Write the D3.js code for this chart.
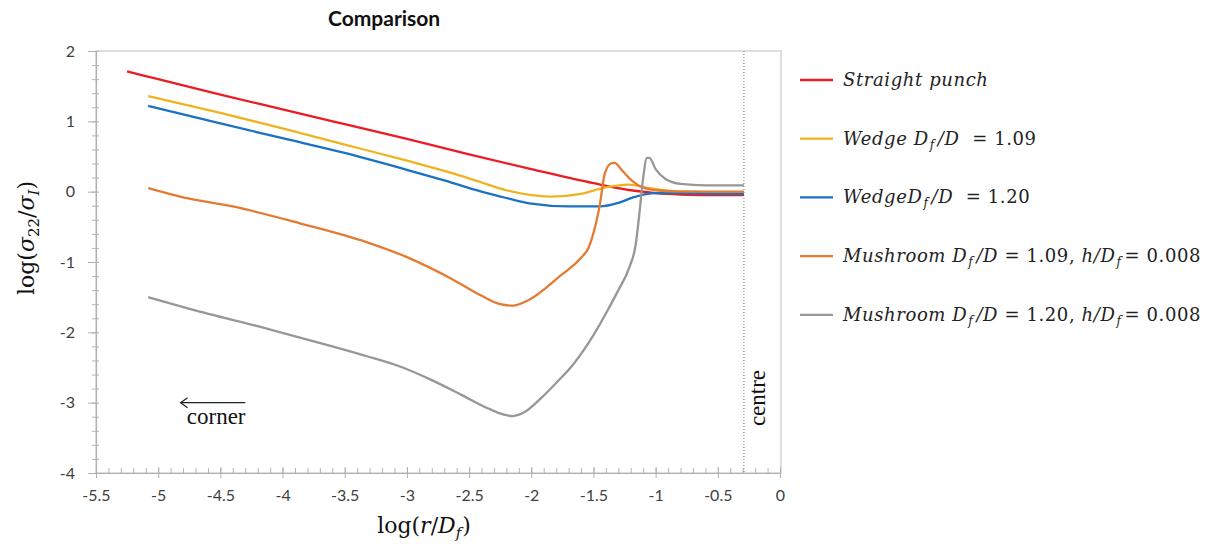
<!DOCTYPE html>
<html>
<head>
<meta charset="utf-8">
<script src="https://cdn.jsdelivr.net/npm/d3@7"></script>
<style>
  body { margin: 0; background: #fff; }
  text { font-family: Lato, sans-serif; }
</style>
</head>
<body>
<div id="plot"></div>
<script>
// series values, [log(r/Df), log(s22/s1)]
var straightPunch = [[-5.25,1.71],[-5.0,1.6],[-4.5,1.38],[-4.0,1.17],[-3.5,0.96],[-3.0,0.75],[-2.5,0.53],
  [-2.0,0.32],[-1.5,0.12],[-1.2,0.02],[-1.0,-0.02],[-0.8,-0.04],[-0.5,-0.05],[-0.29,-0.05]];
var wedge109 = [[-5.08,1.36],[-4.5,1.12],[-4.0,0.9],[-3.5,0.67],[-3.0,0.44],[-2.65,0.27],[-2.4,0.13],
  [-2.2,0.02],[-2.0,-0.05],[-1.85,-0.07],[-1.6,-0.03],[-1.4,0.06],[-1.22,0.1],[-1.05,0.05],[-0.88,0.01],
  [-0.7,0.0],[-0.5,-0.01],[-0.29,-0.01]];
var wedge120 = [[-5.08,1.22],[-4.5,0.97],[-4.0,0.76],[-3.5,0.55],[-3.0,0.31],[-2.7,0.16],[-2.4,0.0],
  [-2.2,-0.09],[-2.0,-0.17],[-1.7,-0.21],[-1.45,-0.21],[-1.3,-0.16],[-1.18,-0.08],[-1.0,-0.02],
  [-0.8,-0.02],[-0.5,-0.03],[-0.29,-0.03]];
var mushroom109 = [[-5.08,0.05],[-4.8,-0.08],[-4.4,-0.21],[-3.86,-0.45],[-3.32,-0.72],[-3.0,-0.93],
  [-2.65,-1.23],[-2.4,-1.48],[-2.25,-1.6],[-2.15,-1.62],[-2.02,-1.54],[-1.77,-1.2],[-1.6,-0.94],
  [-1.54,-0.8],[-1.48,-0.45],[-1.45,-0.2],[-1.41,0.25],[-1.36,0.4],[-1.33,0.41],[-1.27,0.3],
  [-1.2,0.17],[-1.13,0.08],[-1.0,0.02],[-0.8,0.0],[-0.5,0.0],[-0.29,0.0]];
var mushroom120 = [[-5.08,-1.5],[-4.74,-1.67],[-4.12,-1.95],[-3.6,-2.2],[-3.32,-2.34],[-3.05,-2.49],
  [-2.8,-2.68],[-2.55,-2.9],[-2.35,-3.08],[-2.22,-3.17],[-2.15,-3.19],[-2.05,-3.13],[-1.93,-2.95],
  [-1.8,-2.72],[-1.66,-2.45],[-1.5,-2.04],[-1.39,-1.7],[-1.3,-1.4],[-1.21,-1.07],[-1.16,-0.75],
  [-1.13,-0.3],[-1.1,0.2],[-1.07,0.48],[-1.05,0.48],[-1.0,0.32],[-0.92,0.18],[-0.8,0.11],
  [-0.6,0.09],[-0.29,0.09]];

var seriesColors = ["#ec1c24", "#efb320", "#1b72c3", "#e47a33", "#979797"];

// legend labels as [text, style] pieces: i = italic, s = italic subscript, n = upright
var legendLabels = [
  [["Straight punch","i"]],
  [["Wedge D","i"],["f","s"],["/D","i"],["  = 1.09","n"]],
  [["WedgeD","i"],["f","s"],["/D","i"],["  = 1.20","n"]],
  [["Mushroom D","i"],["f","s"],["/D","i"],[" = 1.09, ","n"],["h","i"],["/D","i"],["f","s"],["= 0.008","n"]],
  [["Mushroom D","i"],["f","s"],["/D","i"],[" = 1.20, ","n"],["h","i"],["/D","i"],["f","s"],["= 0.008","n"]]
];

var xTicks = [-5.5,-5,-4.5,-4,-3.5,-3,-2.5,-2,-1.5,-1,-0.5,0];
var yTicks = [2,1,0,-1,-2,-3,-4];
var centreAt = -0.29;

var allSeries = [straightPunch, wedge109, wedge120, mushroom109, mushroom120];

// set the dimensions and margins of the graph
var margin = {top: 51, right: 439, bottom: 76, left: 96},
    width = 1219 - margin.left - margin.right,
    height = 549 - margin.top - margin.bottom;

var root = d3.select("#plot")
  .append("svg")
    .attr("width", 1219)
    .attr("height", 549);

var svg = root.append("g")
    .attr("transform", "translate(" + margin.left + "," + margin.top + ")");

var x = d3.scaleLinear().domain([-5.5, 0]).range([0, width]);
var y = d3.scaleLinear().domain([-4, 2]).range([height, 0]);

// plot frame
svg.append("rect")
  .attr("x", 0).attr("y", 0)
  .attr("width", width + 1).attr("height", height)
  .attr("fill", "none")
  .attr("stroke", "#c8c8c8")
  .attr("stroke-width", 1.2);

// minor ticks
var yMinor = d3.range(-4, 2.001, 0.2);
var yMin = svg.append("g")
  .call(d3.axisLeft(y).tickValues(yMinor).tickSize(4).tickFormat(""));
yMin.select(".domain").remove();
yMin.selectAll("line").attr("x1", 3).attr("stroke", "#b5b5b5");

var xMinor = d3.range(-5.5, 0.001, 0.1);
var xMin = svg.append("g")
  .attr("transform", "translate(0," + height + ")")
  .call(d3.axisBottom(x).tickValues(xMinor).tickSize(0).tickFormat(""));
xMin.select(".domain").remove();
xMin.selectAll("line").attr("y2", -5).attr("stroke", "#b5b5b5");

// major axes
var yAxis = svg.append("g")
  .call(d3.axisLeft(y).tickValues(yTicks).tickSize(8).tickSizeOuter(0).tickPadding(13)
    .tickFormat(function(d) { return String(d); }));
yAxis.select(".domain").attr("stroke", "#b0b0b0").attr("stroke-width", 1.2);
yAxis.selectAll("line").attr("stroke", "#b0b0b0");
yAxis.selectAll("text").style("font-size", "16px").attr("fill", "#404040");

var xAxis = svg.append("g")
  .attr("transform", "translate(0," + height + ")")
  .call(d3.axisBottom(x).tickValues(xTicks).tickSize(5).tickSizeOuter(0).tickPadding(12)
    .tickFormat(function(d) { return String(d); }));
xAxis.select(".domain").attr("stroke", "#b0b0b0").attr("stroke-width", 1.2);
xAxis.selectAll("line").attr("y1", -6).attr("stroke", "#b0b0b0");
xAxis.selectAll("text").style("font-size", "16px").attr("fill", "#404040");

// centre marker
svg.append("line")
  .attr("x1", x(centreAt)).attr("x2", x(centreAt))
  .attr("y1", 0).attr("y2", height)
  .attr("stroke", "#777")
  .attr("stroke-width", 1)
  .attr("stroke-dasharray", "1,2");

svg.append("text")
  .attr("transform", "translate(" + (x(centreAt) + 21) + "," + 347 + ") rotate(-90)")
  .attr("text-anchor", "middle")
  .style("font-family", "'Liberation Serif', serif")
  .style("font-size", "23px")
  .attr("fill", "#111")
  .text("centre");

// corner arrow
var arrowY = y(-3);
svg.append("line")
  .attr("x1", x(-4.3)).attr("x2", x(-4.82))
  .attr("y1", arrowY).attr("y2", arrowY)
  .attr("stroke", "#222").attr("stroke-width", 1.2);
svg.append("path")
  .attr("d", "M" + (x(-4.82) + 7) + "," + (arrowY - 5) + " L" + x(-4.82) + "," + arrowY +
    " L" + (x(-4.82) + 7) + "," + (arrowY + 5))
  .attr("fill", "none").attr("stroke", "#222").attr("stroke-width", 1.2);
svg.append("text")
  .attr("x", x(-4.77)).attr("y", arrowY + 21)
  .style("font-family", "'Liberation Serif', serif")
  .style("font-size", "23px")
  .attr("fill", "#111")
  .text("corner");

// lines
var line = d3.line()
  .x(function(d) { return x(d[0]); })
  .y(function(d) { return y(d[1]); })
  .curve(d3.curveMonotoneX);

svg.append("g").selectAll("path")
  .data(allSeries)
  .enter()
  .append("path")
    .attr("d", line)
    .attr("fill", "none")
    .attr("stroke", function(d, i) { return seriesColors[i]; })
    .attr("stroke-width", 2.3)
    .attr("stroke-linejoin", "round");

// title
root.append("text")
  .attr("x", 328).attr("y", 26)
  .style("font-size", "21px")
  .style("font-weight", "bold")
  .attr("fill", "#111")
  .text("Comparison");

// Y label
var yl = root.append("text")
  .attr("transform", "translate(34,238) rotate(-90)")
  .attr("text-anchor", "middle")
  .style("font-family", "'DejaVu Serif', serif")
  .style("font-size", "22px")
  .attr("fill", "#111");
yl.append("tspan").text("log(");
yl.append("tspan").style("font-style", "italic").text("σ");
yl.append("tspan").attr("dy", 5).style("font-size", "15px").text("22");
yl.append("tspan").attr("dy", -5).text("/");
yl.append("tspan").style("font-style", "italic").text("σ");
yl.append("tspan").attr("dy", 5).style("font-size", "15px").style("font-style", "italic").text("I");
yl.append("tspan").attr("dy", -5).text(")");

// X label
var xl = root.append("text")
  .attr("x", 424).attr("y", 533)
  .attr("text-anchor", "middle")
  .style("font-family", "'DejaVu Serif', serif")
  .style("font-size", "22px")
  .attr("fill", "#111");
xl.append("tspan").text("log(");
xl.append("tspan").style("font-style", "italic").text("r");
xl.append("tspan").text("/");
xl.append("tspan").style("font-style", "italic").text("D");
xl.append("tspan").attr("dy", 5).style("font-size", "15px").style("font-style", "italic").text("f");
xl.append("tspan").attr("dy", -5).attr("dx", 1).text(")");

// legend
var legend = root.append("g").attr("transform", "translate(800,80)");
legendLabels.forEach(function(parts, i) {
  var row = legend.append("g").attr("transform", "translate(0," + (i * 58.7) + ")");
  row.append("line")
    .attr("x1", 0).attr("x2", 33)
    .attr("y1", 0).attr("y2", 0)
    .attr("stroke", seriesColors[i])
    .attr("stroke-width", 2.3);
  var t = row.append("text")
    .attr("x", 43).attr("y", 6)
    .style("font-family", "'DejaVu Serif', serif")
    .style("font-size", "18px")
    .style("letter-spacing", "0.6px")
    .style("white-space", "pre")
    .attr("fill", "#222");
  var shift = 0;
  parts.forEach(function(p) {
    var ts = t.append("tspan").text(p[0]);
    var target = p[1] === "s" ? 4 : 0;
    if (target !== shift) { ts.attr("dy", target - shift); shift = target; }
    if (p[1] === "s") ts.attr("dx", 1).style("font-size", "12px");
    else if (target === 0 && ts.attr("dy") !== null) ts.attr("dx", 3);
    if (p[1] !== "n") ts.style("font-style", "italic");
  });
});
</script>
</body>
</html>
